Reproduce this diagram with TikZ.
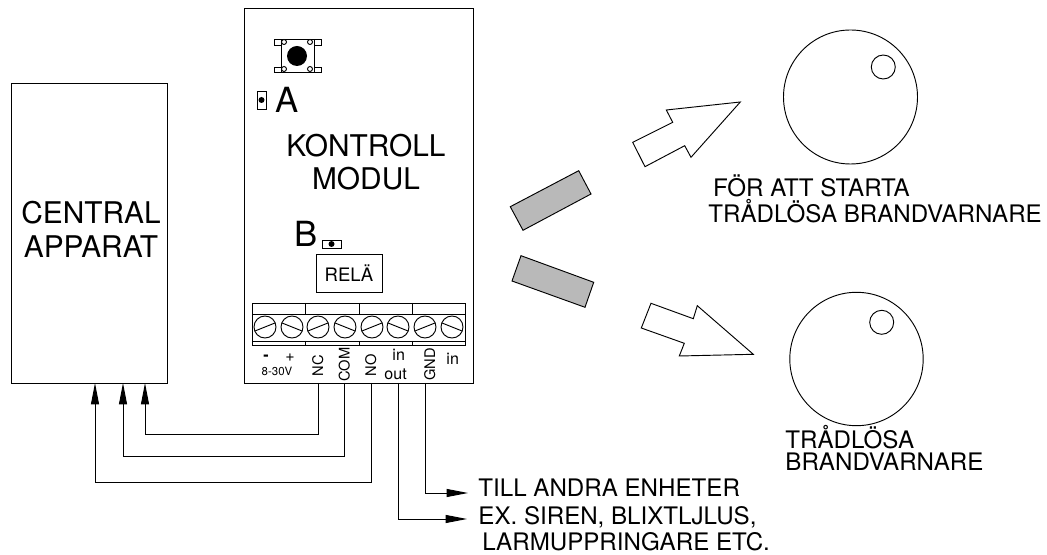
\documentclass[tikz,border=0pt]{standalone}
\usepackage{fontspec}
\setmainfont{TeX Gyre Heros}
\usetikzlibrary{arrows.meta}
\newcommand{\px}{0.75pt}
\begin{document}
\begin{tikzpicture}[x=\px, y=-\px, line width=0.7pt, line join=miter,
		big text/.style = {font = \fontsize{22.4}{24.75}\selectfont, inner sep = 0, align = center},
		jumper text/.style = {font = \fontsize{26}{30}\selectfont, inner sep = 0, anchor = base west},
		note text/.style = {font = \fontsize{18.1}{20}\selectfont, inner sep = 0, anchor = base west},
		pin text/.style = {font = \fontsize{12}{15}\selectfont, inner sep = 0, anchor = base west},
		side text/.style = {font = \fontsize{11}{15}\selectfont, inner sep = 0, anchor = base west, rotate = 90},
		wire arrow/.style = {-{Triangle[length = 16pt, width = 6pt]}},
		magnet/.style = {draw, fill = gray!55!white},
		hollow arrow/.style = {draw, fill = white}]
	\useasboundingbox (0, 0) rectangle (1047, 555);

	% The two boxes
	\node[draw, minimum width = 117pt, minimum height = 225pt, inner sep = 0] (central) at (89, 233) {};
	\node[big text] (apparat) at (91, 229) {CENTRAL\\[0.75pt]APPARAT};
	\node[draw, minimum width = 171.75pt, minimum height = 281.25pt, inner sep = 0] (modul) at (358.5, 195.5) {};
	\node[big text] (kontroll) at (366, 162.5) {KONTROLL\\MODUL};

	% Push button
	\draw (274, 39) rectangle (321, 45);
	\draw (274, 67) rectangle (321, 72);
	\draw[fill = white] (281, 39) rectangle (314, 72);
	\foreach \x in {284, 310} {
		\foreach \y in {42, 69} {
			\draw[fill = white] (\x, \y) circle (2.5);
		}
	}
	\fill (297, 56) circle (10);

	% Jumpers A and B
	\draw (257, 91) rectangle (266, 109);
	\fill (261.5, 100) circle (3);
	\node[jumper text] (jumpA) at (275, 113) {A};
	\draw (322, 240) rectangle (341, 248);
	\fill (331.5, 244) circle (3);
	\node[jumper text] (jumpB) at (294, 247) {B};

	% Relay
	\node[draw, minimum width = 49.5pt, minimum height = 28.5pt, inner sep = 0, font = \fontsize{13.9}{16}\selectfont] (rela) at (349, 273) {RELÄ};

	% Terminal block
	\draw (252, 303) rectangle (465, 345);
	\draw (252, 314) -- (465, 314);
	\draw (252, 341) -- (465, 341);
	\foreach \x in {305, 359, 412} {
		\draw (\x, 303) -- (\x, 314);
		\draw (\x, 341) -- (\x, 345);
	}
	\foreach \x/\s in {265/1, 292/-1, 318/1, 345/-1, 372/1, 398/-1, 425/1, 452/-1} {
		\draw (\x, 327) circle (11);
		\draw (\x - 10, 327 + 4*\s) -- (\x + 10, 327 - 4*\s);
	}

	% Terminal labels
	\node[pin text] (minus) at (263, 361) {\bfseries -};
	\node[pin text] (plus) at (285, 362) {+};
	\node[font = \fontsize{8.6}{10}\selectfont, inner sep = 0] (volt) at (277, 371) {8-30V};
	\node[side text] (nc) at (323, 377) {NC};
	\node[side text] (com) at (349.5, 382) {COM};
	\node[side text] (no) at (376, 377) {NO};
	\node[pin text] (inA) at (392, 361) {in};
	\node[pin text] (outA) at (384, 380) {out};
	\node[side text] (gnd) at (435, 381) {GND};
	\node[pin text] (inB) at (446, 365) {in};

	% Wires, from the module to the central unit
	\coordinate (ncEnd) at (318, 383);
	\coordinate (comEnd) at (344, 383);
	\coordinate (noEnd) at (371, 383);
	\coordinate (outEnd) at (398, 383);
	\coordinate (gndEnd) at (425, 383);
	\coordinate (ncIn) at (145, 383);
	\coordinate (comIn) at (123, 383);
	\coordinate (noIn) at (95, 383);
	\draw[wire arrow] (ncEnd) -- (318, 434) -- (145, 434) -- (ncIn);
	\draw[wire arrow] (comEnd) -- (344, 456) -- (123, 456) -- (comIn);
	\draw[wire arrow] (noEnd) -- (371, 482) -- (95, 482) -- (noIn);

	% Wires to the other units
	\node[note text] (till) at (478, 497) {TILL ANDRA ENHETER};
	\node[note text] (siren) at (478, 525) {EX. SIREN, BLIXTLJLUS,};
	\node[note text] (larm) at (482, 550.5) {LARMUPPRINGARE ETC.};
	\draw[wire arrow] (gndEnd) -- (425, 493) -- (468, 493);
	\draw[wire arrow] (outEnd) -- (398, 519) -- (467, 519);

	% Magnets and hollow arrows
	\draw[magnet] (510.3, 206.7) -- (578.7, 170.7) -- (591, 194) -- (523, 230.3) -- cycle;
	\draw[magnet] (521, 255.7) -- (593.7, 282.3) -- (585, 307.3) -- (512, 281) -- cycle;
	\draw[hollow arrow] (632.7, 142.3) -- (672.7, 122.3) -- (666.3, 110) -- (740.3, 102) -- (691, 157.3) -- (684.7, 145.7) -- (645, 166.7) -- cycle;
	\draw[hollow arrow] (651, 303.3) -- (693.3, 318.7) -- (697.3, 305.7) -- (753.3, 354.3) -- (679.3, 356) -- (684.3, 343.3) -- (641.3, 328) -- cycle;

	% Wireless detectors
	\draw (850.5, 97) circle (67);
	\draw (883.3, 67) circle (12);
	\draw (856.5, 359) circle (66.7);
	\draw (881.7, 322.3) circle (12);
	\node[note text] (start) at (712.7, 197) {FÖR ATT STARTA};
	\node[note text] (tradlosaA) at (708, 222.7) {TRÅDLÖSA BRANDVARNARE};
	\node[note text] (tradlosaB) at (785, 449) {TRÅDLÖSA};
	\node[note text] (brand) at (785, 471) {BRANDVARNARE};
\end{tikzpicture}
\end{document}
